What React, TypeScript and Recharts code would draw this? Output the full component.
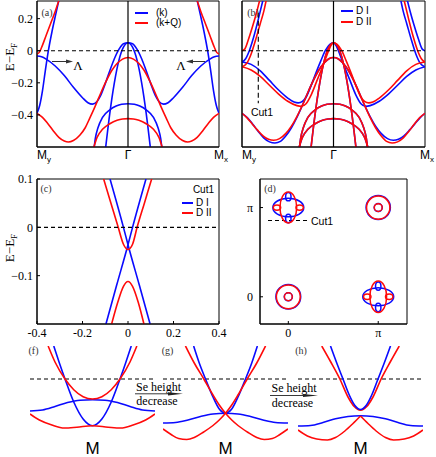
import React from 'react';
import { LineChart, Line, XAxis, YAxis, ReferenceLine, ReferenceArea, ComposedChart, Scatter } from 'recharts';

type P = [number, number];
type Box = { x0: number; y0: number; x1: number; y1: number };

const BLUE = '#0a0aff';
const RED = '#ff0a0a';
const SERIF = '"Liberation Serif", "DejaVu Serif", serif';
const SANS = '"Liberation Sans", Arial, sans-serif';

// ---------- (a) bands along My (0) - Gamma (1) - Mx (2), E - EF in eV
const A_K_LAMBDA: P[] = [[0,-0.033],[0.05,-0.038],[0.1,-0.052],[0.2,-0.095],[0.3,-0.155],[0.4,-0.228],[0.5,-0.293],[0.56,-0.324],[0.61,-0.333],[0.66,-0.316],[0.7,-0.278],[0.75,-0.205],[0.8,-0.125],[0.85,-0.05],[0.9,0.008],[0.95,0.043],[1,0.05],[1.05,0.043],[1.1,0.008],[1.15,-0.05],[1.2,-0.125],[1.25,-0.205],[1.3,-0.278],[1.34,-0.316],[1.39,-0.333],[1.44,-0.324],[1.5,-0.293],[1.6,-0.228],[1.7,-0.155],[1.8,-0.095],[1.9,-0.052],[1.95,-0.038],[2,-0.033]];
const A_K_NARROW: P[] = [[0.745,-0.65],[0.8,-0.39],[0.85,-0.2],[0.9,-0.06],[0.95,0.022],[1,0.05],[1.05,0.022],[1.1,-0.06],[1.15,-0.2],[1.2,-0.39],[1.255,-0.65]];
const A_K_INNER: P[] = [[0.625,-0.62],[0.64,-0.55],[0.67,-0.48],[0.72,-0.415],[0.8,-0.368],[0.87,-0.345],[0.93,-0.334],[1,-0.33],[1.07,-0.334],[1.13,-0.345],[1.2,-0.368],[1.28,-0.415],[1.33,-0.48],[1.36,-0.55],[1.375,-0.62]];
const A_K_MY: P[] = [[0,-0.39],[0.03,-0.34],[0.06,-0.25],[0.09,-0.13],[0.125,0],[0.165,0.12],[0.205,0.225],[0.25,0.34]];
const A_K_MX: P[] = [[1.75,0.34],[1.795,0.225],[1.835,0.12],[1.875,0],[1.91,-0.13],[1.94,-0.25],[1.97,-0.34],[2,-0.39]];
const A_KQ_MY: P[] = [[0,-0.02],[0.025,-0.01],[0.05,0.02],[0.1,0.095],[0.15,0.17],[0.2,0.245],[0.25,0.33]];
const A_KQ_MX: P[] = [[1.75,0.33],[1.8,0.245],[1.85,0.17],[1.9,0.095],[1.95,0.02],[1.975,-0.01],[2,-0.02]];
const A_KQ_MID: P[] = [[0,-0.39],[0.06,-0.415],[0.12,-0.455],[0.18,-0.5],[0.24,-0.54],[0.3,-0.563],[0.345,-0.569],[0.4,-0.56],[0.47,-0.527],[0.53,-0.48],[0.58,-0.42],[0.64,-0.345],[0.7,-0.265],[0.76,-0.19],[0.82,-0.125],[0.88,-0.08],[0.94,-0.052],[1,-0.042],[1.06,-0.052],[1.12,-0.08],[1.18,-0.125],[1.24,-0.19],[1.3,-0.265],[1.36,-0.345],[1.42,-0.42],[1.47,-0.48],[1.53,-0.527],[1.6,-0.56],[1.655,-0.569],[1.7,-0.563],[1.76,-0.54],[1.82,-0.5],[1.88,-0.455],[1.94,-0.415],[2,-0.39]];
const A_KQ_INNER: P[] = [[0.615,-0.62],[0.66,-0.54],[0.72,-0.49],[0.8,-0.455],[0.88,-0.433],[0.94,-0.425],[1,-0.423],[1.06,-0.425],[1.12,-0.433],[1.2,-0.455],[1.28,-0.49],[1.34,-0.54],[1.385,-0.62]];

// ---------- (b) domain I (blue) and domain II (red)
const B_D1_LAMBDA: P[] = [[0,-0.07],[0.1,-0.085],[0.2,-0.125],[0.3,-0.185],[0.4,-0.245],[0.5,-0.295],[0.57,-0.32],[0.615,-0.325],[0.66,-0.316],[0.7,-0.29],[0.75,-0.225],[0.8,-0.15],[0.86,-0.065],[0.91,0],[0.96,0.04],[1,0.05],[1.03,0.03],[1.07,-0.025],[1.12,-0.1],[1.18,-0.185],[1.24,-0.27],[1.3,-0.33],[1.35,-0.346],[1.4,-0.342],[1.5,-0.315],[1.6,-0.27],[1.7,-0.215],[1.8,-0.16],[1.9,-0.12],[2,-0.1]];
const B_D2_LAMBDA: P[] = [[0,-0.1],[0.1,-0.12],[0.2,-0.16],[0.3,-0.215],[0.4,-0.27],[0.5,-0.315],[0.6,-0.342],[0.65,-0.346],[0.7,-0.33],[0.76,-0.27],[0.82,-0.185],[0.88,-0.1],[0.93,-0.025],[0.97,0.03],[1,0.05],[1.04,0.04],[1.09,0],[1.14,-0.065],[1.2,-0.15],[1.25,-0.225],[1.3,-0.29],[1.34,-0.316],[1.385,-0.325],[1.43,-0.32],[1.5,-0.295],[1.6,-0.245],[1.7,-0.185],[1.8,-0.125],[1.9,-0.085],[2,-0.07]];
const B_D1_MY: P[] = [[0,-0.07],[0.04,-0.05],[0.08,0],[0.13,0.09],[0.18,0.2],[0.235,0.33]];
const B_D1_MX_A: P[] = [[1.8,0.33],[1.84,0.24],[1.88,0.16],[1.93,0.07],[1.97,0.01],[2,0]];
const B_D1_MX_B: P[] = [[1.73,0.33],[1.76,0.25],[1.8,0.17],[1.85,0.07],[1.9,-0.02],[1.95,-0.08],[2,-0.1]];
const B_D2_MY_A: P[] = [[0,0],[0.03,0.01],[0.07,0.07],[0.12,0.16],[0.16,0.24],[0.2,0.33]];
const B_D2_MY_B: P[] = [[0,-0.1],[0.05,-0.08],[0.1,-0.02],[0.15,0.07],[0.2,0.17],[0.24,0.25],[0.27,0.33]];
const B_D2_MX: P[] = [[1.765,0.33],[1.82,0.2],[1.87,0.09],[1.92,0],[1.96,-0.05],[2,-0.07]];
const B_D1_LOW: P[] = [[0,-0.39],[0.06,-0.418],[0.12,-0.46],[0.18,-0.505],[0.24,-0.545],[0.3,-0.568],[0.36,-0.575],[0.42,-0.565],[0.48,-0.53],[0.54,-0.48],[0.6,-0.415],[0.66,-0.34],[0.72,-0.26],[0.78,-0.185],[0.84,-0.12],[0.9,-0.075],[0.95,-0.05],[1,-0.042],[1.05,-0.05],[1.1,-0.075],[1.16,-0.12],[1.22,-0.185],[1.28,-0.26],[1.34,-0.34],[1.4,-0.41],[1.46,-0.47],[1.52,-0.515],[1.59,-0.548],[1.654,-0.558],[1.71,-0.552],[1.77,-0.53],[1.83,-0.495],[1.89,-0.455],[1.95,-0.415],[2,-0.39]];
const B_D2_LOW: P[] = [[0,-0.39],[0.05,-0.415],[0.11,-0.455],[0.17,-0.495],[0.23,-0.53],[0.29,-0.552],[0.346,-0.558],[0.41,-0.548],[0.48,-0.515],[0.54,-0.47],[0.6,-0.41],[0.66,-0.34],[0.72,-0.26],[0.78,-0.185],[0.84,-0.12],[0.9,-0.075],[0.95,-0.05],[1,-0.042],[1.05,-0.05],[1.1,-0.075],[1.16,-0.12],[1.22,-0.185],[1.28,-0.26],[1.34,-0.34],[1.4,-0.415],[1.46,-0.48],[1.52,-0.53],[1.58,-0.565],[1.64,-0.575],[1.7,-0.568],[1.76,-0.545],[1.82,-0.505],[1.88,-0.46],[1.94,-0.418],[2,-0.39]];

// ---------- (c) Cut1, k from -0.4 to 0.4
const C_D1_A: P[] = [[-0.079,0.1],[-0.02,0],[0,-0.036],[0.05,-0.12],[0.097,-0.2]];
const C_D1_B: P[] = [[-0.097,-0.2],[-0.05,-0.12],[0,-0.036],[0.02,0],[0.079,0.1]];
const C_D2_UP: P[] = [[-0.107,0.1],[-0.075,0.05],[-0.043,0],[-0.02,-0.035],[0,-0.046],[0.02,-0.035],[0.04,0],[0.072,0.05],[0.104,0.1]];
const C_D2_DN: P[] = [[-0.072,-0.2],[-0.045,-0.155],[-0.02,-0.122],[0,-0.112],[0.02,-0.122],[0.045,-0.155],[0.07,-0.2]];

// ---------- (d) Fermi pockets, units of pi
const D_D1_POCKETS = [
  { x: 0, y: 0, rx: 0.138, ry: 0.138 }, { x: 0, y: 0, rx: 0.045, ry: 0.045 },
  { x: 1, y: 1, rx: 0.135, ry: 0.135 }, { x: 1, y: 1, rx: 0.045, ry: 0.045 },
  { x: 0, y: 1, rx: 0.172, ry: 0.104 }, { x: 0, y: 1.122, rx: 0.03, ry: 0.047 }, { x: 0, y: 0.878, rx: 0.03, ry: 0.047 },
  { x: 1, y: 0, rx: 0.172, ry: 0.1 }, { x: 1, y: 0.12, rx: 0.03, ry: 0.047 }, { x: 1, y: -0.12, rx: 0.03, ry: 0.047 },
];
const D_D2_POCKETS = [
  { x: 0, y: 0, rx: 0.133, ry: 0.133 }, { x: 0, y: 0, rx: 0.044, ry: 0.044 },
  { x: 1, y: 1, rx: 0.13, ry: 0.13 }, { x: 1, y: 1, rx: 0.044, ry: 0.044 },
  { x: 0, y: 1, rx: 0.093, ry: 0.173 }, { x: -0.126, y: 1, rx: 0.041, ry: 0.03 }, { x: 0.126, y: 1, rx: 0.041, ry: 0.03 },
  { x: 1, y: 0, rx: 0.093, ry: 0.177 }, { x: 0.878, y: 0, rx: 0.041, ry: 0.03 }, { x: 1.122, y: 0, rx: 0.041, ry: 0.03 },
];

// ---------- (f)(g)(h) sketches around M, arbitrary units
const F_K_UP: P[] = [[-0.62,3.3],[-0.53,1.6],[-0.44,0],[-0.3,-2.3],[-0.15,-4.0],[0,-4.67],[0.15,-4.0],[0.3,-2.3],[0.44,0],[0.53,1.6],[0.62,3.3]];
const F_K_FLAT: P[] = [[-1,-3.2],[-0.8,-3.1],[-0.6,-2.75],[-0.4,-2.35],[-0.2,-2.12],[0,-2.08],[0.2,-2.12],[0.4,-2.35],[0.6,-2.75],[0.8,-3.1],[1,-3.2]];
const F_KQ_UP: P[] = [[-0.71,3.3],[-0.6,1.7],[-0.44,0],[-0.3,-1.07],[-0.15,-1.77],[0,-2],[0.15,-1.77],[0.3,-1.07],[0.44,0],[0.6,1.7],[0.71,3.3]];
const F_KQ_LOW: P[] = [[-1,-3.5],[-0.85,-4.1],[-0.65,-4.6],[-0.45,-4.9],[-0.25,-4.82],[0,-4.68],[0.25,-4.82],[0.45,-4.9],[0.65,-4.6],[0.85,-4.1],[1,-3.5]];

const G_K_UP: P[] = [[-0.51,3.3],[-0.42,1.6],[-0.32,0],[-0.2,-1.8],[-0.1,-3.0],[0,-3.4],[0.1,-3.0],[0.2,-1.8],[0.32,0],[0.42,1.6],[0.51,3.3]];
const G_K_FLAT: P[] = [[-1,-4.4],[-0.8,-4.35],[-0.6,-4.1],[-0.4,-3.75],[-0.2,-3.5],[0,-3.43],[0.2,-3.5],[0.4,-3.75],[0.6,-4.1],[0.8,-4.35],[1,-4.4]];
const G_KQ_A: P[] = [[-0.64,3.3],[-0.5,1.6],[-0.347,0],[-0.2,-1.6],[-0.1,-2.6],[0,-3.43],[0.1,-4.1],[0.2,-4.65],[0.35,-5.3],[0.5,-5.85],[0.62,-6.05],[0.75,-5.95],[0.87,-5.55],[1,-5.0]];
const G_KQ_B: P[] = [[-1,-5.0],[-0.87,-5.55],[-0.75,-5.95],[-0.62,-6.05],[-0.5,-5.85],[-0.35,-5.3],[-0.2,-4.65],[-0.1,-4.1],[0,-3.43],[0.1,-2.6],[0.2,-1.6],[0.347,0],[0.5,1.6],[0.64,3.3]];

const H_K_UP: P[] = [[-0.48,3.3],[-0.38,1.6],[-0.28,0],[-0.18,-1.6],[-0.09,-2.65],[0,-3.05],[0.09,-2.65],[0.18,-1.6],[0.28,0],[0.38,1.6],[0.48,3.3]];
const H_K_FLAT: P[] = [[-1,-4.7],[-0.8,-4.65],[-0.6,-4.35],[-0.4,-3.98],[-0.2,-3.75],[0,-3.68],[0.2,-3.75],[0.4,-3.98],[0.6,-4.35],[0.8,-4.65],[1,-4.7]];
const H_KQ_UP: P[] = [[-0.62,3.3],[-0.48,1.75],[-0.33,0],[-0.2,-1.8],[-0.1,-2.75],[0,-3.12],[0.1,-2.75],[0.2,-1.8],[0.33,0],[0.48,1.75],[0.62,3.3]];
const H_KQ_LOW_L: P[] = [[-1,-5.1],[-0.85,-5.7],[-0.7,-6.0],[-0.53,-6.1],[-0.4,-5.85],[-0.25,-5.2],[-0.12,-4.45],[0,-3.7]];
const H_KQ_LOW_R: P[] = [[0,-3.7],[0.12,-4.45],[0.25,-5.2],[0.4,-5.85],[0.53,-6.1],[0.7,-6.0],[0.85,-5.7],[1,-5.1]];

const K_TICKS = [0, 1, 2];
const E_TICKS_AB = [-0.4, -0.2, 0, 0.2];
const E_TICKS_C = [-0.1, 0, 0.1];
const K_TICKS_C = [-0.4, -0.2, 0, 0.2, 0.4];

type Curve = { d: P[]; c: string };

const A_CURVES: Curve[] = [
  { d: A_K_LAMBDA, c: BLUE }, { d: A_K_NARROW, c: BLUE }, { d: A_K_INNER, c: BLUE },
  { d: A_K_MY, c: BLUE }, { d: A_K_MX, c: BLUE },
  { d: A_KQ_MY, c: RED }, { d: A_KQ_MX, c: RED }, { d: A_KQ_MID, c: RED }, { d: A_KQ_INNER, c: RED },
];
const B_CURVES: Curve[] = [
  { d: B_D1_LAMBDA, c: BLUE }, { d: B_D1_MY, c: BLUE }, { d: B_D1_MX_A, c: BLUE }, { d: B_D1_MX_B, c: BLUE },
  { d: B_D1_LOW, c: BLUE }, { d: A_K_NARROW, c: BLUE }, { d: A_K_INNER, c: BLUE }, { d: A_KQ_INNER, c: BLUE },
  { d: B_D2_LAMBDA, c: RED }, { d: B_D2_MY_A, c: RED }, { d: B_D2_MY_B, c: RED }, { d: B_D2_MX, c: RED },
  { d: B_D2_LOW, c: RED }, { d: A_K_NARROW, c: RED }, { d: A_K_INNER, c: RED }, { d: A_KQ_INNER, c: RED },
];
const C_CURVES: Curve[] = [
  { d: C_D1_A, c: BLUE }, { d: C_D1_B, c: BLUE }, { d: C_D2_UP, c: RED }, { d: C_D2_DN, c: RED },
];
const F_CURVES: Curve[] = [
  { d: F_K_FLAT, c: BLUE }, { d: F_K_UP, c: BLUE }, { d: F_KQ_UP, c: RED }, { d: F_KQ_LOW, c: RED },
];
const G_CURVES: Curve[] = [
  { d: G_K_FLAT, c: BLUE }, { d: G_K_UP, c: BLUE }, { d: G_KQ_A, c: RED }, { d: G_KQ_B, c: RED },
];
const H_CURVES: Curve[] = [
  { d: H_K_FLAT, c: BLUE }, { d: H_KQ_UP, c: RED }, { d: H_K_UP, c: BLUE }, { d: H_KQ_LOW_L, c: RED }, { d: H_KQ_LOW_R, c: RED },
];

const toPts = (a: P[]) => a.map(([x, y]) => ({ x, y }));
const fmtNum = (v: number) => (v === 0 ? '0' : (v < 0 ? '\u2212' : '') + Math.abs(v).toFixed(1));

const BOX_A: Box = { x0: 37, y0: 1, x1: 219, y1: 147 };
const BOX_B: Box = { x0: 242, y0: 1, x1: 425, y1: 147 };
const BOX_C: Box = { x0: 37, y0: 179, x1: 219, y1: 324 };
const BOX_D: Box = { x0: 260, y0: 179, x1: 407, y1: 324 };

const PAD_L = 40, PAD_T = 9, PAD_R = 12, PAD_B = 22;
const tickFont = { fontSize: 12, fill: '#000', fontFamily: SERIF };

const kTick = (props: any) => {
  const { x, y, payload } = props;
  const v = payload.value;
  const base = y + 8;
  if (v === 1) {
    return <text x={x} y={base} textAnchor="middle" fontFamily={SANS} fontSize={12} fill="#000">Γ</text>;
  }
  return (
    <text x={v === 0 ? x : x - 5} y={base} fontFamily={SANS} fontSize={12} fill="#000">
      M<tspan fontSize={8} dy={3}>{v === 0 ? 'y' : 'x'}</tspan>
    </text>
  );
};

function BandPanel({ box, xDomain, yDomain, xTicks, yTicks, xTick, yLabels, xTickLines, curves, children }: any) {
  const w = box.x1 - box.x0 + PAD_L + PAD_R;
  const h = box.y1 - box.y0 + PAD_T + PAD_B;
  return (
    <div style={{ position: 'absolute', left: box.x0 - PAD_L, top: box.y0 - PAD_T }}>
      <LineChart width={w} height={h} margin={{ top: PAD_T, right: PAD_R, bottom: 0, left: 0 }}>
        <XAxis type="number" dataKey="x" domain={xDomain} ticks={xTicks} interval={0} allowDataOverflow
          height={PAD_B} stroke="#000" tickSize={-3} tickMargin={7} tickLine={xTickLines} tick={xTick} />
        <YAxis type="number" dataKey="y" domain={yDomain} ticks={yTicks} interval={0} allowDataOverflow
          width={PAD_L} stroke="#000" tickSize={-3} tickMargin={7}
          tick={yLabels ? tickFont : false} tickFormatter={fmtNum} />
        <ReferenceArea x1={xDomain[0]} x2={xDomain[1]} y1={yDomain[0]} y2={yDomain[1]}
          fill="none" stroke="#000" strokeWidth={1} ifOverflow="visible" />
        {curves.map((c: Curve, i: number) => (
          <Line key={i} data={toPts(c.d)} dataKey="y" type="monotone" stroke={c.c} strokeWidth={1.6}
            dot={false} activeDot={false} isAnimationActive={false} />
        ))}
        {children}
      </LineChart>
    </div>
  );
}

function MiniPanel({ x0, curves }: { x0: number; curves: Curve[] }) {
  const w = 125, plotH = 95, axH = 16;
  return (
    <div style={{ position: 'absolute', left: x0, top: 346 }}>
      <LineChart width={w} height={plotH + axH} margin={{ top: 0, right: 0, bottom: 0, left: 0 }}>
        <XAxis type="number" dataKey="x" domain={[-1, 1]} ticks={[0]} allowDataOverflow height={axH}
          axisLine={false} tickLine={false} tickSize={0} tickMargin={0}
          tick={(p: any) => (
            <text x={p.x} y={p.y + 13} textAnchor="middle" fontFamily={SANS} fontSize={17} fill="#000">M</text>
          )} />
        <YAxis type="number" dataKey="y" domain={[-6.2, 3.3]} allowDataOverflow hide />
        <ReferenceLine y={0} stroke="#000" strokeWidth={1.1} strokeDasharray="4 3" />
        {curves.map((c, i) => (
          <Line key={i} data={toPts(c.d)} dataKey="y" type="monotone" stroke={c.c} strokeWidth={1.6}
            dot={false} activeDot={false} isAnimationActive={false} />
        ))}
      </LineChart>
    </div>
  );
}

function PocketPanel() {
  const xDomain = [-0.315, 1.32];
  const yDomain = [-0.305, 1.32];
  const box = BOX_D;
  const sx = (box.x1 - box.x0) / (xDomain[1] - xDomain[0]);
  const sy = (box.y1 - box.y0) / (yDomain[1] - yDomain[0]);
  const padL = 30;
  const w = box.x1 - box.x0 + padL + PAD_R;
  const h = box.y1 - box.y0 + PAD_T + PAD_B;
  const ell = (color: string) => (p: any) => (
    <ellipse cx={p.cx} cy={p.cy} rx={p.payload.rx * sx} ry={p.payload.ry * sy} fill="none" stroke={color} strokeWidth={1.5} />
  );
  return (
    <div style={{ position: 'absolute', left: box.x0 - padL, top: box.y0 - PAD_T }}>
      <ComposedChart width={w} height={h} margin={{ top: PAD_T, right: PAD_R, bottom: 0, left: 0 }}>
        <XAxis type="number" dataKey="x" domain={xDomain} ticks={[0, 1]} interval={0} allowDataOverflow
          height={PAD_B} stroke="#000" tickSize={-3} tickMargin={7} tick={tickFont}
          tickFormatter={(v: number) => (v === 1 ? 'π' : '0')} />
        <YAxis type="number" dataKey="y" domain={yDomain} ticks={[0, 1]} interval={0} allowDataOverflow
          width={padL} stroke="#000" tickSize={-3} tickMargin={10} tick={tickFont}
          tickFormatter={(v: number) => (v === 1 ? 'π' : '0')} />
        <ReferenceArea x1={xDomain[0]} x2={xDomain[1]} y1={yDomain[0]} y2={yDomain[1]}
          fill="none" stroke="#000" strokeWidth={1} ifOverflow="visible" />
        <Scatter data={D_D1_POCKETS} shape={ell(BLUE)} isAnimationActive={false} />
        <Scatter data={D_D2_POCKETS} shape={ell(RED)} isAnimationActive={false} />
        <ReferenceLine segment={[{ x: -0.226, y: 0.855 }, { x: 0.23, y: 0.855 }]} stroke="#000"
          strokeWidth={1.1} strokeDasharray="4 3" />
      </ComposedChart>
    </div>
  );
}

function Txt({ x, y, anchor = 'start', size = 11, font = SANS, color = '#000', children }: any) {
  const tx = anchor === 'start' ? '0' : anchor === 'middle' ? '-50%' : '-100%';
  return (
    <div style={{ position: 'absolute', left: x, top: y, transform: `translate(${tx},-50%)`, fontSize: size,
      fontFamily: font, color, lineHeight: 1, whiteSpace: 'nowrap' }}>{children}</div>
  );
}

function Swatch({ x0, x1, y, color }: any) {
  return <div style={{ position: 'absolute', left: x0, top: Math.round(y - 1), width: x1 - x0, height: 2, backgroundColor: color }} />;
}

function ELabel({ x, y }: { x: number; y: number }) {
  return (
    <div style={{ position: 'absolute', left: x, top: y, transform: 'translate(-50%,-50%) rotate(-90deg)',
      fontFamily: SERIF, fontSize: 13, lineHeight: 1, whiteSpace: 'nowrap' }}>
      E{'\u2212'}E<span style={{ fontSize: 9, position: 'relative', top: 3 }}>F</span>
    </div>
  );
}

export default function App() {
  return (
    <div style={{ position: 'absolute', left: 0, top: 0, width: 436, height: 457, background: '#fff', overflow: 'hidden' }}>
      <BandPanel box={BOX_A} xDomain={[0, 2]} yDomain={[-0.6, 0.31]} xTicks={K_TICKS} yTicks={E_TICKS_AB}
        xTick={kTick} xTickLines={false} yLabels curves={A_CURVES}>
        <ReferenceLine x={1} stroke="#000" strokeWidth={1.2} />
        <ReferenceLine y={0} stroke="#000" strokeWidth={1.2} strokeDasharray="4 3" />
      </BandPanel>
      <BandPanel box={BOX_B} xDomain={[0, 2]} yDomain={[-0.6, 0.31]} xTicks={K_TICKS} yTicks={E_TICKS_AB}
        xTick={kTick} xTickLines={false} yLabels={false} curves={B_CURVES}>
        <ReferenceLine x={1} stroke="#000" strokeWidth={1.2} />
        <ReferenceLine y={0} stroke="#000" strokeWidth={1.2} strokeDasharray="4 3" />
        <ReferenceLine segment={[{ x: 0.178, y: 0.236 }, { x: 0.178, y: -0.327 }]} stroke="#000"
          strokeWidth={1.1} strokeDasharray="5 3" />
      </BandPanel>
      <BandPanel box={BOX_C} xDomain={[-0.4, 0.4]} yDomain={[-0.2, 0.1]} xTicks={K_TICKS_C} yTicks={E_TICKS_C}
        xTick={tickFont} xTickLines yLabels curves={C_CURVES}>
        <ReferenceLine y={0} stroke="#000" strokeWidth={1.2} strokeDasharray="4 3" />
      </BandPanel>
      <PocketPanel />
      <MiniPanel x0={30} curves={F_CURVES} />
      <MiniPanel x0={162.5} curves={G_CURVES} />
      <MiniPanel x0={297.5} curves={H_CURVES} />

      <ELabel x={9} y={57} />
      <ELabel x={9} y={248} />

      <Txt x={47} y={12.5} anchor="middle" size={10} font={SERIF} color="#333">(a)</Txt>
      <Txt x={253} y={12.5} anchor="middle" size={10} font={SERIF} color="#333">(b)</Txt>
      <Txt x={46} y={189} anchor="middle" size={10} font={SERIF} color="#333">(c)</Txt>
      <Txt x={270} y={189} anchor="middle" size={10} font={SERIF} color="#333">(d)</Txt>
      <Txt x={33.5} y={350.5} anchor="middle" size={10} font={SERIF} color="#333">(f)</Txt>
      <Txt x={167.5} y={350.5} anchor="middle" size={10} font={SERIF} color="#333">(g)</Txt>
      <Txt x={301} y={350.5} anchor="middle" size={10} font={SERIF} color="#333">(h)</Txt>

      <Swatch x0={135} x1={148} y={12.7} color={BLUE} />
      <Txt x={156} y={12.7} size={10}>(k)</Txt>
      <Swatch x0={135} x1={148} y={23.3} color={RED} />
      <Txt x={156} y={23.3} size={10}>(k+Q)</Txt>

      <Swatch x0={341} x1={353} y={11} color={BLUE} />
      <Txt x={356} y={11} size={10}>D I</Txt>
      <Swatch x0={341} x1={353} y={21.7} color={RED} />
      <Txt x={356} y={21.7} size={10}>D II</Txt>

      <Txt x={214} y={190} anchor="end" size={10}>Cut1</Txt>
      <Swatch x0={182} x1={193} y={202.8} color={BLUE} />
      <Txt x={196} y={202.8} size={10}>D I</Txt>
      <Swatch x0={182} x1={193} y={213.2} color={RED} />
      <Txt x={196} y={213.2} size={10}>D II</Txt>

      <Txt x={262} y={112} anchor="middle" size={10.5}>Cut1</Txt>
      <Txt x={311} y={220.5} size={10.5}>Cut1</Txt>

      <Txt x={78} y={65} anchor="middle" size={13} font={SERIF}>Λ</Txt>
      <Txt x={181} y={65} anchor="middle" size={13} font={SERIF}>Λ</Txt>

      <Txt x={158.5} y={386.5} anchor="middle" size={12} font={SERIF}>Se height</Txt>
      <Txt x={157} y={401} anchor="middle" size={12} font={SERIF}>decrease</Txt>
      <Txt x={294} y={388} anchor="middle" size={12} font={SERIF}>Se height</Txt>
      <Txt x={292.5} y={402.5} anchor="middle" size={12} font={SERIF}>decrease</Txt>

      <svg width={436} height={457} style={{ position: 'absolute', left: 0, top: 0, pointerEvents: 'none' }}>
        <line x1={52} y1={61.5} x2={67} y2={61.5} stroke="#333" strokeWidth={1} />
        <polygon points="73,61.5 66,59.6 66,63.4" fill="#333" />
        <line x1={205} y1={61.5} x2={192} y2={61.5} stroke="#333" strokeWidth={1} />
        <polygon points="186,61.5 193,59.6 193,63.4" fill="#333" />
        <line x1={135} y1={393.8} x2={172} y2={393.8} stroke="#222" strokeWidth={0.9} />
        <polygon points="183,393.8 168,392.2 168,395.4" fill="#222" />
        <line x1={270} y1={395.5} x2={307} y2={395.5} stroke="#222" strokeWidth={0.9} />
        <polygon points="318,395.5 303,393.9 303,397.1" fill="#222" />
      </svg>
    </div>
  );
}
